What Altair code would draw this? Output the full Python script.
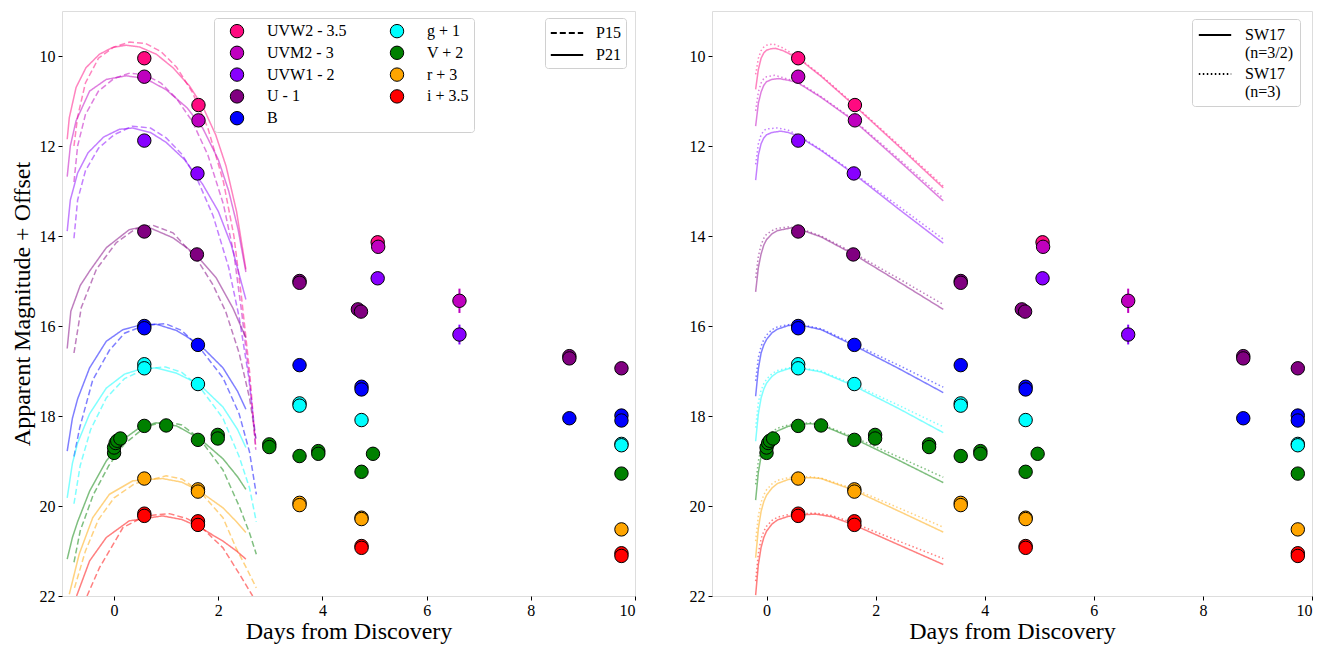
import altair as alt
import pandas as pd

FONT = "Liberation Serif, Times New Roman, DejaVu Serif, serif"

# ---------------- bands / colours ----------------
BANDS = ["UVW2 - 3.5", "UVM2 - 3", "UVW1 - 2", "U - 1", "B", "g + 1", "V + 2", "r + 3", "i + 3.5"]
COLORS = ["#ff0a80", "#bf00bf", "#8800ff", "#800080", "#0000ff", "#00ffff", "#008000", "#ffa500", "#ff0000"]

# ---------------- photometry (same in both panels) ----------------
pt_band = (["UVW2 - 3.5"] * 3 + ["UVM2 - 3"] * 4 + ["UVW1 - 2"] * 4 + ["U - 1"] * 9 + ["B"] * 9
           + ["g + 1"] * 8 + ["V + 2"] * 18 + ["r + 3"] * 8 + ["i + 3.5"] * 8)
pt_day = [0.58, 1.62, 5.06,
          0.58, 1.62, 5.07, 6.63,
          0.58, 1.60, 5.06, 6.63,
          0.58, 1.59, 3.56, 3.56, 4.68, 4.74, 8.74, 8.74, 9.74,
          0.58, 0.58, 1.61, 3.56, 4.75, 4.75, 8.74, 9.74, 9.74,
          0.58, 0.58, 1.61, 3.56, 3.56, 4.75, 9.74, 9.74,
          0.00, 0.00, 0.03, 0.06, 0.12, 0.58, 1.00, 1.61, 1.99, 1.99, 2.98, 2.98, 3.56, 3.92, 3.92, 4.75, 4.97, 9.74,
          0.58, 1.61, 1.61, 3.56, 3.56, 4.75, 4.75, 9.74,
          0.58, 0.58, 1.61, 1.61, 4.75, 4.75, 9.74, 9.74]
pt_mag = [10.05, 11.09, 14.14,
          10.46, 11.43, 14.24, 15.44,
          11.88, 12.61, 14.94, 16.19,
          13.90, 14.41, 15.00, 15.04, 15.63, 15.68, 16.67, 16.72, 16.94,
          16.00, 16.05, 16.42, 16.87, 17.35, 17.41, 18.05, 17.99, 18.10,
          16.85, 16.94, 17.29, 17.72, 17.77, 18.09, 18.62, 18.65,
          18.82, 18.70, 18.60, 18.55, 18.50, 18.22, 18.21, 18.53, 18.42, 18.50, 18.63, 18.69, 18.89, 18.78, 18.84, 19.24, 18.84, 19.28,
          19.39, 19.63, 19.68, 19.93, 19.98, 20.26, 20.29, 20.52,
          20.17, 20.22, 20.34, 20.42, 20.89, 20.93, 21.05, 21.11]
pt_err = [0.08, 0, 0,
          0.10, 0, 0, 0.27,
          0, 0, 0, 0.22] + [0] * 60

# ---------------- left panel models: P21 (solid) ----------------
p21_uvw2 = [(-0.90, 11.85), (-0.86, 11.37), (-0.73, 10.70), (-0.54, 10.26), (-0.28, 9.96), (-0.03, 9.81), (0.23, 9.76),
            (0.49, 9.80), (0.81, 9.96), (1.13, 10.26), (1.45, 10.67), (1.70, 11.12), (1.95, 11.75), (2.15, 12.45),
            (2.35, 13.45), (2.53, 14.74)]
p21_uvm2 = [(-0.90, 12.68), (-0.84, 12.00), (-0.73, 11.44), (-0.47, 10.78), (-0.15, 10.52), (0.23, 10.44), (0.60, 10.50),
            (1.00, 10.75), (1.40, 11.15), (1.70, 11.60), (2.00, 12.30), (2.20, 13.00), (2.38, 13.85), (2.53, 14.80)]
p21_uvw1 = [(-0.90, 13.89), (-0.84, 13.20), (-0.70, 12.60), (-0.50, 12.15), (-0.20, 11.80), (0.10, 11.63), (0.35, 11.60),
            (0.70, 11.70), (1.00, 11.92), (1.35, 12.30), (1.70, 12.85), (2.00, 13.45), (2.25, 14.20), (2.53, 15.41)]
p21_u = [(-0.90, 16.50), (-0.83, 15.67), (-0.65, 15.10), (-0.47, 14.78), (-0.15, 14.26), (0.29, 13.86), (0.61, 13.78),
         (1.13, 14.04), (1.57, 14.41), (1.96, 14.93), (2.28, 15.60), (2.53, 16.26)]
p21_b = [(-0.90, 18.78), (-0.80, 18.05), (-0.70, 17.62), (-0.47, 16.93), (-0.15, 16.34), (0.17, 16.08), (0.50, 15.98),
         (0.81, 15.96), (1.20, 16.10), (1.64, 16.41), (2.09, 16.93), (2.37, 17.45), (2.53, 17.85)]
p21_g = [(-0.90, 19.82), (-0.80, 19.05), (-0.70, 18.60), (-0.47, 17.95), (-0.15, 17.38), (0.20, 17.07), (0.50, 16.96),
         (0.81, 16.93), (1.20, 17.05), (1.64, 17.30), (2.09, 17.80), (2.37, 18.30), (2.53, 18.70)]
p21_v = [(-0.90, 21.18), (-0.80, 20.70), (-0.70, 20.35), (-0.47, 19.67), (-0.15, 19.00), (0.20, 18.50), (0.50, 18.25),
         (0.81, 18.15), (1.20, 18.22), (1.64, 18.50), (2.09, 18.95), (2.37, 19.35), (2.53, 19.63)]
p21_r = [(-0.86, 21.96), (-0.67, 21.07), (-0.41, 20.26), (-0.09, 19.74), (0.36, 19.44), (0.93, 19.39), (1.30, 19.47),
         (1.64, 19.67), (2.09, 20.04), (2.35, 20.35), (2.53, 20.59)]
p21_i = [(-0.72, 22.00), (-0.47, 21.22), (-0.15, 20.70), (0.29, 20.33), (0.93, 20.22), (1.30, 20.30), (1.64, 20.47),
         (2.09, 20.78), (2.35, 21.00), (2.53, 21.18)]

# ---------------- left panel models: P15 (dashed) ----------------
p15_uvw2 = [(-0.77, 12.00), (-0.70, 11.35), (-0.55, 10.60), (-0.30, 10.05), (0.00, 9.80), (0.30, 9.69), (0.60, 9.72),
            (0.90, 9.90), (1.20, 10.25), (1.50, 10.80), (1.80, 11.60), (2.10, 12.80), (2.30, 14.00), (2.45, 15.40),
            (2.60, 17.00), (2.72, 18.70)]
p15_uvm2 = [(-0.77, 12.80), (-0.70, 12.00), (-0.55, 11.30), (-0.30, 10.78), (0.00, 10.50), (0.30, 10.38), (0.60, 10.42),
            (0.90, 10.60), (1.20, 10.95), (1.50, 11.45), (1.80, 12.20), (2.10, 13.30), (2.30, 14.40), (2.45, 15.70),
            (2.60, 17.20), (2.72, 18.75)]
p15_uvw1 = [(-0.77, 14.05), (-0.70, 13.20), (-0.55, 12.55), (-0.30, 12.05), (0.00, 11.75), (0.35, 11.56), (0.70, 11.60),
            (1.00, 11.82), (1.30, 12.18), (1.60, 12.75), (1.90, 13.55), (2.20, 14.70), (2.40, 15.80), (2.58, 17.10),
            (2.72, 18.50)]
p15_u = [(-0.77, 16.60), (-0.63, 15.59), (-0.34, 14.74), (0.04, 14.15), (0.40, 13.85), (0.74, 13.76), (1.13, 13.93),
         (1.57, 14.48), (1.89, 15.07), (2.14, 15.67), (2.40, 16.60), (2.60, 17.60), (2.72, 18.50)]
p15_b = [(-0.77, 18.90), (-0.66, 18.26), (-0.41, 17.20), (-0.09, 16.54), (0.20, 16.16), (0.60, 15.98), (0.99, 15.95),
         (1.30, 16.10), (1.64, 16.48), (2.09, 17.15), (2.40, 17.95), (2.60, 18.80), (2.73, 19.74)]
p15_g = [(-0.77, 19.95), (-0.65, 19.10), (-0.45, 18.30), (-0.15, 17.60), (0.20, 17.17), (0.60, 16.95), (0.99, 16.91),
         (1.30, 17.03), (1.64, 17.35), (2.09, 18.05), (2.40, 18.90), (2.60, 19.60), (2.73, 20.35)]
p15_v = [(-0.77, 21.25), (-0.65, 20.55), (-0.40, 19.75), (-0.10, 19.10), (0.20, 18.62), (0.60, 18.24), (1.00, 18.12),
         (1.30, 18.20), (1.64, 18.50), (2.09, 19.20), (2.40, 20.00), (2.60, 20.60), (2.73, 21.07)]
p15_r = [(-0.76, 21.82), (-0.55, 21.00), (-0.30, 20.30), (0.00, 19.82), (0.40, 19.50), (1.00, 19.33), (1.30, 19.40),
         (1.64, 19.67), (2.09, 20.26), (2.34, 20.93), (2.55, 21.40), (2.73, 21.82)]
p15_i = [(-0.52, 22.00), (-0.28, 21.37), (0.17, 20.48), (0.60, 20.22), (1.06, 20.17), (1.40, 20.28), (1.64, 20.43),
         (2.09, 20.93), (2.41, 21.52), (2.66, 22.00)]

# ---------------- right panel models: SW17 n=3/2 (solid) ----------------
sw32_uvw2 = [(-0.20, 10.74), (-0.15, 10.30), (-0.10, 10.05), (-0.05, 9.93), (0.00, 9.87), (0.08, 9.84), (0.16, 9.83),
             (0.30, 9.88), (0.58, 10.05), (1.00, 10.45), (1.60, 11.09), (2.40, 11.98), (3.24, 12.93)]
sw32_uvm2 = [(-0.20, 11.56), (-0.15, 11.05), (-0.10, 10.80), (-0.05, 10.65), (0.00, 10.57), (0.10, 10.52), (0.22, 10.50),
             (0.40, 10.54), (0.58, 10.60), (1.00, 10.92), (1.60, 11.44), (2.40, 12.30), (3.24, 13.22)]
sw32_uvw1 = [(-0.20, 12.76), (-0.15, 12.20), (-0.10, 11.95), (-0.05, 11.82), (0.00, 11.75), (0.10, 11.70), (0.26, 11.67),
             (0.40, 11.70), (0.58, 11.78), (1.00, 12.10), (1.60, 12.62), (2.40, 13.38), (3.24, 14.16)]
sw32_u = [(-0.20, 15.24), (-0.15, 14.70), (-0.10, 14.40), (-0.05, 14.20), (0.00, 14.08), (0.10, 13.95), (0.20, 13.88),
          (0.45, 13.82), (0.58, 13.84), (1.00, 14.02), (1.60, 14.41), (2.40, 15.00), (3.24, 15.63)]
sw32_b = [(-0.20, 17.56), (-0.15, 16.95), (-0.10, 16.60), (-0.05, 16.42), (0.00, 16.30), (0.10, 16.15), (0.20, 16.07),
          (0.40, 15.99), (0.58, 15.97), (1.00, 16.08), (1.60, 16.43), (2.40, 16.93), (3.24, 17.48)]
sw32_g = [(-0.20, 18.56), (-0.15, 17.95), (-0.10, 17.60), (-0.05, 17.40), (0.00, 17.27), (0.10, 17.12), (0.20, 17.03),
          (0.40, 16.95), (0.58, 16.93), (1.00, 17.02), (1.60, 17.33), (2.40, 17.82), (3.24, 18.37)]
sw32_v = [(-0.20, 19.87), (-0.15, 19.25), (-0.10, 18.90), (-0.05, 18.70), (0.00, 18.57), (0.10, 18.42), (0.20, 18.33),
          (0.40, 18.23), (0.60, 18.19), (0.80, 18.17), (1.00, 18.20), (1.60, 18.50), (2.40, 18.97), (3.24, 19.48)]
sw32_r = [(-0.20, 21.15), (-0.15, 20.50), (-0.10, 20.12), (-0.05, 19.90), (0.00, 19.76), (0.10, 19.60), (0.20, 19.50),
          (0.40, 19.41), (0.60, 19.38), (0.80, 19.37), (1.00, 19.39), (1.60, 19.65), (2.40, 20.10), (3.24, 20.58)]
sw32_i = [(-0.20, 21.98), (-0.15, 21.30), (-0.10, 20.92), (-0.05, 20.70), (0.00, 20.56), (0.10, 20.40), (0.20, 20.31),
          (0.40, 20.23), (0.60, 20.20), (0.90, 20.18), (1.20, 20.24), (1.60, 20.42), (2.40, 20.85), (3.24, 21.30)]

# ---------------- right panel models: SW17 n=3 (dotted) ----------------
sw3_uvw2 = [(-0.20, 10.41), (-0.15, 10.05), (-0.10, 9.88), (-0.05, 9.80), (0.00, 9.76), (0.12, 9.73), (0.30, 9.82),
            (0.58, 10.03), (1.00, 10.43), (1.60, 11.07), (2.40, 11.95), (3.24, 12.89)]
sw3_uvm2 = [(-0.20, 11.22), (-0.15, 10.80), (-0.10, 10.60), (-0.05, 10.50), (0.00, 10.46), (0.15, 10.43), (0.30, 10.48),
            (0.58, 10.58), (1.00, 10.90), (1.60, 11.42), (2.40, 12.26), (3.24, 13.16)]
sw3_uvw1 = [(-0.20, 12.41), (-0.15, 11.95), (-0.10, 11.75), (-0.05, 11.66), (0.00, 11.62), (0.20, 11.60), (0.40, 11.65),
            (0.58, 11.76), (1.00, 12.08), (1.60, 12.60), (2.40, 13.32), (3.24, 14.07)]
sw3_u = [(-0.20, 14.93), (-0.15, 14.45), (-0.10, 14.20), (-0.05, 14.05), (0.00, 13.96), (0.10, 13.88), (0.20, 13.83),
         (0.40, 13.80), (0.58, 13.82), (1.00, 14.00), (1.60, 14.38), (2.40, 14.93), (3.24, 15.52)]
sw3_b = [(-0.20, 17.22), (-0.15, 16.70), (-0.10, 16.45), (-0.05, 16.30), (0.00, 16.20), (0.10, 16.08), (0.20, 16.02),
         (0.40, 15.97), (0.58, 15.96), (1.00, 16.06), (1.60, 16.40), (2.40, 16.86), (3.24, 17.36)]
sw3_g = [(-0.20, 18.26), (-0.15, 17.70), (-0.10, 17.43), (-0.05, 17.28), (0.00, 17.18), (0.10, 17.06), (0.20, 16.99),
         (0.40, 16.93), (0.58, 16.92), (1.00, 17.00), (1.60, 17.30), (2.40, 17.75), (3.24, 18.24)]
sw3_v = [(-0.20, 19.52), (-0.15, 19.00), (-0.10, 18.72), (-0.05, 18.57), (0.00, 18.47), (0.10, 18.35), (0.20, 18.27),
         (0.40, 18.20), (0.60, 18.16), (0.80, 18.15), (1.00, 18.18), (1.60, 18.47), (2.40, 18.90), (3.24, 19.36)]
sw3_r = [(-0.20, 20.78), (-0.15, 20.22), (-0.10, 19.92), (-0.05, 19.75), (0.00, 19.64), (0.10, 19.51), (0.20, 19.43),
         (0.40, 19.37), (0.60, 19.35), (0.80, 19.35), (1.00, 19.38), (1.60, 19.62), (2.40, 20.03), (3.24, 20.47)]
sw3_i = [(-0.20, 21.67), (-0.15, 21.05), (-0.10, 20.73), (-0.05, 20.56), (0.00, 20.45), (0.10, 20.32), (0.20, 20.25),
         (0.40, 20.19), (0.60, 20.17), (0.90, 20.16), (1.20, 20.21), (1.60, 20.38), (2.40, 20.77), (3.24, 21.17)]

LEFT_MODELS = {
    "P15": [p15_uvw2, p15_uvm2, p15_uvw1, p15_u, p15_b, p15_g, p15_v, p15_r, p15_i],
    "P21": [p21_uvw2, p21_uvm2, p21_uvw1, p21_u, p21_b, p21_g, p21_v, p21_r, p21_i],
}
SW_SOLID = "SW17|(n=3/2)"
SW_DOT = "SW17|(n=3)"
RIGHT_MODELS = {
    SW_SOLID: [sw32_uvw2, sw32_uvm2, sw32_uvw1, sw32_u, sw32_b, sw32_g, sw32_v, sw32_r, sw32_i],
    SW_DOT: [sw3_uvw2, sw3_uvm2, sw3_uvw1, sw3_u, sw3_b, sw3_g, sw3_v, sw3_r, sw3_i],
}


def curve_frame(models):
    rows = []
    for model, curves in models.items():
        for band, pts_ in zip(BANDS, curves):
            for k, (d, m) in enumerate(pts_):
                rows.append({"band": band, "model": model, "day": d, "mag": m, "k": k})
    return pd.DataFrame(rows)


pts = pd.DataFrame({"band": pt_band, "day": pt_day, "mag": pt_mag, "err": pt_err})
pts["lo"] = pts["mag"] - pts["err"]
pts["hi"] = pts["mag"] + pts["err"]
errs = pts[pts["err"] > 0]

line_color = alt.Scale(domain=BANDS, range=COLORS)
fill_scale = alt.Scale(domain=BANDS, range=COLORS)

XSC = alt.Scale(domain=[-1, 10], nice=False, zero=False)
YSC = alt.Scale(domain=[9, 22], reverse=True, nice=False, zero=False)
XAX = alt.Axis(values=[0, 2, 4, 6, 8, 10], grid=False, domain=False, tickSize=4, tickColor="black",
               labelPadding=2, labelFont=FONT, labelFontSize=16, labelColor="black",
               titleFont=FONT, titleFontSize=24, titleFontWeight="normal", titleColor="black", titlePadding=1)
YAX = alt.Axis(values=[10, 12, 14, 16, 18, 20, 22], grid=False, domain=False, tickSize=4, tickColor="black",
               labelPadding=3, labelFont=FONT, labelFontSize=16, labelColor="black",
               titleFont=FONT, titleFontSize=24, titleFontWeight="normal", titleColor="black", titlePadding=5)


def panel(models, dash_domain, dash_range, dash_legend, fill_legend, ytitle, width):
    cdf = curve_frame(models)
    lines = alt.Chart(cdf).mark_line(strokeWidth=1.5, opacity=0.5, clip=True).encode(
        x=alt.X("day:Q", scale=XSC, axis=XAX, title="Days from Discovery"),
        y=alt.Y("mag:Q", scale=YSC, axis=YAX, title=ytitle),
        color=alt.Color("band:N", scale=line_color, legend=None),
        strokeDash=alt.StrokeDash("model:N", scale=alt.Scale(domain=dash_domain, range=dash_range),
                                  legend=dash_legend),
        order="k:Q",
    )
    bars = alt.Chart(errs).mark_rule(strokeWidth=2, clip=True).encode(
        x="day:Q", y="lo:Q", y2="hi:Q",
        color=alt.Color("band:N", scale=line_color, legend=None),
    )
    dots = alt.Chart(pts).mark_point(filled=True, shape="circle", size=180, stroke="black",
                                     strokeWidth=1, opacity=1, clip=True).encode(
        x="day:Q", y="mag:Q",
        fill=alt.Fill("band:N", scale=fill_scale, legend=fill_legend),
    )
    return alt.layer(lines, bars, dots).properties(width=width, height=585)


fill_leg = alt.Legend(orient="none", legendX=152, legendY=7, columns=2, title=None,
                      labelFont=FONT, labelFontSize=16, labelColor="black",
                      symbolType="circle", symbolSize=180, symbolStrokeColor="black", symbolStrokeWidth=1,
                      symbolOpacity=1, padding=5, symbolOffset=10, labelOffset=22, rowPadding=3.8,
                      columnPadding=32, fillColor="white", strokeColor="#d0d0d0", cornerRadius=3)

dash_leg_left = alt.Legend(orient="none", legendX=483, legendY=7, title=None,
                           labelFont=FONT, labelFontSize=16, labelColor="black",
                           symbolType="M-1.8,0H1.8", symbolSize=324, symbolStrokeColor="black",
                           symbolFillColor="transparent", symbolStrokeWidth=2, symbolOpacity=1,
                           padding=5, symbolOffset=7, labelOffset=19, rowPadding=4,
                           fillColor="white", strokeColor="#d0d0d0", cornerRadius=3)

dash_leg_right = alt.Legend(orient="none", legendX=480, legendY=8, title=None,
                            labelFont=FONT, labelFontSize=16, labelColor="black",
                            labelExpr="split(datum.label, '|')",
                            symbolType="M-1.8,0H1.8", symbolSize=324, symbolStrokeColor="black",
                            symbolFillColor="transparent", symbolStrokeWidth=2, symbolOpacity=1,
                            padding=6, symbolOffset=7, labelOffset=20, rowPadding=3,
                            fillColor="white", strokeColor="#d0d0d0", cornerRadius=3)

left = panel(LEFT_MODELS, ["P15", "P21"], [[6, 3], [1, 0]], dash_leg_left, fill_leg,
             "Apparent Magnitude + Offset", 573)
right = panel(RIGHT_MODELS, [SW_SOLID, SW_DOT], [[1, 0], [1.5, 2.5]], dash_leg_right, None, None, 600)

chart = alt.hconcat(left, right, spacing=77, bounds="flush").resolve_scale(
    strokeDash="independent", fill="independent"
).resolve_legend(
    strokeDash="independent", fill="independent"
).properties(
    padding={"left": 9, "top": 10, "right": 5, "bottom": 5}
).configure_view(stroke="#222222", strokeWidth=1).configure(
    background="white", font=FONT
).configure_axis(labelFont=FONT, titleFont=FONT).configure_legend(labelFont=FONT)

chart.save("out.html", embed_options={"renderer": "svg", "actions": False})
